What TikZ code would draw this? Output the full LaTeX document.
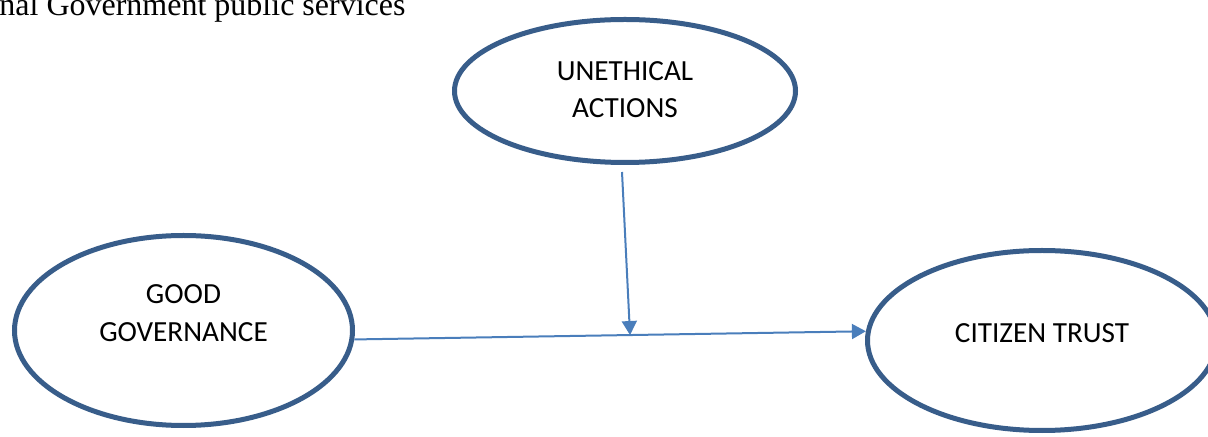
\documentclass[tikz,border=0pt]{standalone}
\usepackage{fontspec}
\setmainfont{Carlito}
\newfontfamily\titlefont{Liberation Serif}
\usetikzlibrary{arrows.meta,shapes.geometric}
\definecolor{ovalblue}{HTML}{385D8A}
\definecolor{arrowblue}{HTML}{4A7EBB}
\begin{document}
\begin{tikzpicture}[x=0.5pt,y=-0.5pt,
  oval/.style={ellipse,draw=ovalblue,line width=2.5pt,fill=white},
  lbl/.style={align=center,font=\fontsize{14.6}{18.8}\selectfont},
  link/.style={draw=arrowblue,line width=1pt,-{Triangle[length=7pt,width=7.5pt]},arrowblue}]

\useasboundingbox (0,0) rectangle (1208,437);
\clip (0,0) rectangle (1208,437);

\node[anchor=base west,inner sep=0pt,font=\titlefont\fontsize{16}{19}\selectfont] (title) at (-1,16) {nal Government public services};

\node[oval,minimum width=170.5pt,minimum height=71.5pt] (ua) at (625,91) {};
\node[oval,minimum width=169pt,minimum height=95pt] (gg) at (183.5,330.5) {};
\node[oval,minimum width=174.5pt,minimum height=90pt] (ct) at (1042,340.5) {};

\node[lbl] (ualbl) at ([yshift=0.75pt]ua.center) {UNETHICAL\\ACTIONS};
\node[lbl] (gglbl) at ([yshift=8.75pt]gg.center) {GOOD\\GOVERNANCE};
\node[lbl] (ctlbl) at ([yshift=3.75pt]ct.center) {CITIZEN TRUST};

\coordinate (top) at ([xshift=-1.5pt,yshift=-3.5pt]ua.south);
\path (gg.-3.8) -- (ct.177.6) coordinate[pos=0.539] (mid);

\draw[link] (gg.-3.8) -- (ct.177.6);
\draw[link] (top) -- (mid);

\end{tikzpicture}
\end{document}
